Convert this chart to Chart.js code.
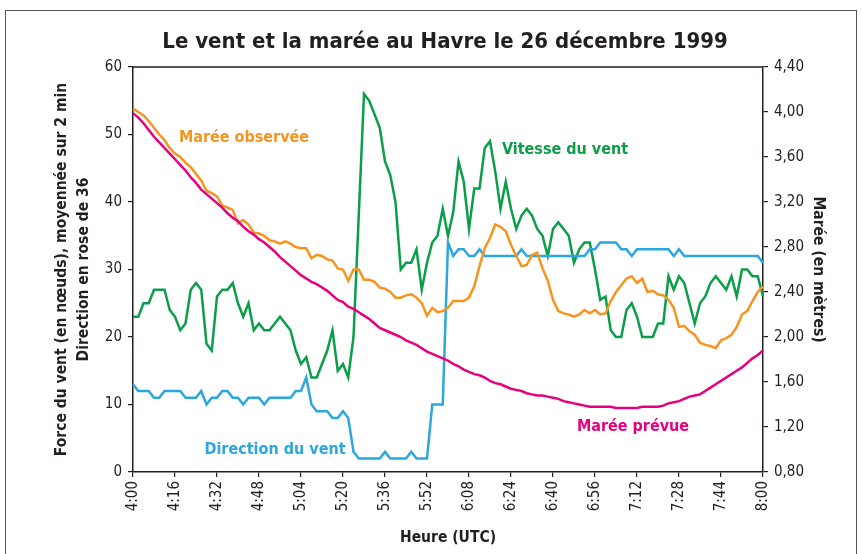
<!DOCTYPE html>
<html>
<head>
<meta charset="utf-8">
<script src="https://cdn.jsdelivr.net/npm/chart.js@4.4.1/dist/chart.umd.min.js"></script>
<style>
  html, body { margin: 0; padding: 0; background: #fff; }
  #wrap { width: 861px; height: 554px; }
</style>
</head>
<body>
<div id="wrap"><canvas id="chart" width="861" height="554"></canvas></div>
<script>
// Heures de 4:00 à 8:00, un point toutes les 2 minutes
const times = [];
for (let m = 0; m <= 240; m += 2) {
    const h = 4 + Math.floor(m / 60);
    const mm = m % 60;
    times.push(h + ':' + String(mm).padStart(2, '0'));
}

// Vitesse du vent (noeuds, moyenne sur 2 min)
const windSpeed = [
    23, 23, 25, 25, 27, 27, 27, 24, 23, 21,
    22, 27, 28, 27, 19, 18, 26, 27, 27, 28,
    25, 23, 25, 21, 22, 21, 21, 22, 23, 22,
    21, 18, 16, 17, 14, 14, 16, 18, 21, 15,
    16, 14, 20, 38, 56, 55, 53, 51, 46, 44,
    40, 30, 31, 31, 33, 27, 31, 34, 35, 39,
    35, 38.5, 46, 43, 36, 42, 42, 48, 49, 44.5,
    39, 43, 39, 36, 38, 39, 38, 36, 35, 32,
    36, 37, 36, 35, 31, 33, 34, 34, 30, 25.5,
    26, 21, 20, 20, 24, 25, 23, 20, 20, 20,
    22, 22, 29, 27, 29, 28, 25, 22, 25, 26,
    28, 29, 28, 27, 29, 26, 30, 30, 29, 29,
    26
];

// Direction du vent (rose de 36)
const windDirection = [
    13, 12, 12, 12, 11, 11, 12, 12, 12, 12,
    11, 11, 11, 12, 10, 11, 11, 12, 12, 11,
    11, 10, 11, 11, 11, 10, 11, 11, 11, 11,
    11, 12, 12, 14, 10, 9, 9, 9, 8, 8,
    9, 8, 3, 2, 2, 2, 2, 2, 3, 2,
    2, 2, 2, 3, 2, 2, 2, 10, 10, 10,
    34, 32, 33, 33, 32, 32, 33, 32, 32, 32,
    32, 32, 32, 32, 33, 32, 32, 32, 32, 32,
    32, 32, 32, 32, 32, 32, 32, 33, 33, 34,
    34, 34, 34, 33, 33, 32, 33, 33, 33, 33,
    33, 33, 33, 32, 33, 32, 32, 32, 32, 32,
    32, 32, 32, 32, 32, 32, 32, 32, 32, 32,
    31
];

// Marée observée (m)
const observedTide = [
    4.03, 4.00, 3.97, 3.92, 3.86, 3.80, 3.75, 3.68, 3.63, 3.60,
    3.55, 3.51, 3.45, 3.39, 3.30, 3.28, 3.25, 3.17, 3.15, 3.13,
    3.01, 3.04, 3.00, 2.93, 2.92, 2.90, 2.86, 2.85, 2.83, 2.85,
    2.83, 2.80, 2.79, 2.79, 2.70, 2.73, 2.72, 2.69, 2.68, 2.61,
    2.60, 2.50, 2.60, 2.60, 2.51, 2.51, 2.49, 2.44, 2.43, 2.40,
    2.35, 2.35, 2.37, 2.38, 2.35, 2.30, 2.19, 2.26, 2.22, 2.23,
    2.26, 2.32, 2.32, 2.32, 2.35, 2.45, 2.63, 2.79, 2.88, 3.00,
    2.98, 2.94, 2.82, 2.72, 2.63, 2.64, 2.73, 2.75, 2.61, 2.50,
    2.33, 2.23, 2.21, 2.20, 2.18, 2.20, 2.24, 2.21, 2.24, 2.20,
    2.21, 2.32, 2.40, 2.46, 2.52, 2.54, 2.48, 2.52, 2.40, 2.41,
    2.38, 2.37, 2.33, 2.26, 2.09, 2.10, 2.05, 2.02, 1.95, 1.93,
    1.92, 1.90, 1.97, 1.99, 2.02, 2.09, 2.20, 2.23, 2.32, 2.40,
    2.45
];

// Marée prévue (m)
const predictedTide = [
    3.99, 3.95, 3.90, 3.84, 3.78, 3.73, 3.68, 3.63, 3.58, 3.53,
    3.48, 3.42, 3.37, 3.31, 3.27, 3.23, 3.19, 3.15, 3.10, 3.06,
    3.03, 2.98, 2.94, 2.91, 2.87, 2.84, 2.80, 2.76, 2.71, 2.67,
    2.63, 2.59, 2.55, 2.52, 2.49, 2.47, 2.44, 2.41, 2.37, 2.33,
    2.31, 2.27, 2.25, 2.22, 2.19, 2.16, 2.12, 2.08, 2.06, 2.04,
    2.02, 2.00, 1.97, 1.95, 1.93, 1.90, 1.87, 1.85, 1.83, 1.81,
    1.79, 1.76, 1.74, 1.71, 1.69, 1.67, 1.66, 1.64, 1.61, 1.59,
    1.58, 1.56, 1.54, 1.53, 1.52, 1.50, 1.49, 1.48, 1.48, 1.47,
    1.46, 1.45, 1.43, 1.42, 1.41, 1.40, 1.39, 1.38, 1.38, 1.38,
    1.38, 1.38, 1.37, 1.37, 1.37, 1.37, 1.37, 1.38, 1.38, 1.38,
    1.38, 1.39, 1.41, 1.42, 1.43, 1.45, 1.47, 1.48, 1.49, 1.52,
    1.55, 1.58, 1.61, 1.64, 1.67, 1.70, 1.73, 1.77, 1.81, 1.84,
    1.88
];

const FONT = "'DejaVu Sans Condensed', 'Liberation Sans Narrow', sans-serif";
const INK = '#231f20';
const GREEN = '#0a9e49';
const BLUE = '#2ba6de';
const ORANGE = '#f7941d';
const MAGENTA = '#e6007e';

// titre, cadre et étiquettes des courbes
const decorations = {
    id: 'decorations',
    beforeDraw(chart) {
        const ctx = chart.ctx;
        ctx.save();
        ctx.fillStyle = '#fff';
        ctx.fillRect(0, 0, chart.width, chart.height);
        ctx.restore();
    },
    afterDraw(chart) {
        const { ctx, chartArea: a } = chart;
        ctx.save();
        ctx.strokeStyle = INK;
        ctx.lineWidth = 1.5;
        ctx.beginPath();
        ctx.moveTo(a.left, a.top);
        ctx.lineTo(a.right, a.top);
        ctx.stroke();

        ctx.strokeStyle = '#555';
        ctx.lineWidth = 1;
        ctx.strokeRect(5.5, 10.5, 851, 600);

        ctx.fillStyle = INK;
        ctx.textAlign = 'center';
        ctx.textBaseline = 'alphabetic';
        ctx.font = 'bold 22px ' + FONT;
        ctx.fillText('Le vent et la marée au Havre le 26 décembre 1999', 445, 48);

        ctx.font = 'bold 16px ' + FONT;
        ctx.fillStyle = ORANGE;
        ctx.fillText('Marée observée', 244, 142);
        ctx.fillStyle = GREEN;
        ctx.fillText('Vitesse du vent', 565, 154);
        ctx.fillStyle = BLUE;
        ctx.fillText('Direction du vent', 275, 454);
        ctx.fillStyle = MAGENTA;
        ctx.fillText('Marée prévue', 633, 431);
        ctx.restore();
    }
};

const lineStyle = { borderWidth: 2.5, pointRadius: 0, tension: 0, fill: false };
const titleFont = { family: FONT, size: 15.5, weight: 'bold', lineHeight: 1.48 };

new Chart(document.getElementById('chart'), {
    type: 'line',
    data: {
        labels: times,
        datasets: [
            { label: 'Marée prévue', data: predictedTide, borderColor: MAGENTA, yAxisID: 'y1', ...lineStyle },
            { label: 'Marée observée', data: observedTide, borderColor: ORANGE, yAxisID: 'y1', ...lineStyle },
            { label: 'Direction du vent', data: windDirection, borderColor: BLUE, yAxisID: 'y', ...lineStyle },
            { label: 'Vitesse du vent', data: windSpeed, borderColor: GREEN, yAxisID: 'y', ...lineStyle }
        ]
    },
    options: {
        responsive: false,
        animation: false,
        devicePixelRatio: 1,
        layout: { padding: { top: 67, left: 0, right: 0, bottom: 0 } },
        plugins: {
            legend: { display: false },
            title: { display: false },
            tooltip: { enabled: false }
        },
        scales: {
            x: {
                type: 'category',
                offset: false,
                afterFit(scale) { scale.height = 82; },
                grid: { drawOnChartArea: false, drawTicks: true, tickLength: 5, color: INK, lineWidth: 1.2 },
                border: { display: true, color: INK, width: 1.5 },
                ticks: {
                    autoSkip: false,
                    minRotation: 90,
                    maxRotation: 90,
                    padding: 4,
                    color: INK,
                    font: { family: FONT, size: 15 },
                    callback(value, index) {
                        return index % 8 === 0 ? this.getLabelForValue(value) : null;
                    }
                },
                title: {
                    display: true,
                    text: 'Heure (UTC)',
                    color: INK,
                    font: titleFont,
                    padding: { top: 0, bottom: 5 }
                }
            },
            y: {
                position: 'left',
                min: 0,
                max: 60,
                afterFit(scale) { scale.width = 133; },
                grid: { drawOnChartArea: false, drawTicks: true, tickLength: 5, color: INK, lineWidth: 1.2 },
                border: { display: true, color: INK, width: 1.5 },
                ticks: {
                    stepSize: 10,
                    padding: 6,
                    color: INK,
                    font: { family: FONT, size: 15 }
                },
                title: {
                    display: true,
                    text: ['Force du vent (en nœuds), moyennée sur 2 min', 'Direction en rose de 36'],
                    color: INK,
                    font: titleFont,
                    padding: { top: 50, bottom: 0 }
                }
            },
            y1: {
                position: 'right',
                min: 0.8,
                max: 4.4,
                afterFit(scale) { scale.width = 98; },
                grid: { drawOnChartArea: false, drawTicks: true, tickLength: 5, color: INK, lineWidth: 1.2 },
                border: { display: true, color: INK, width: 1.5 },
                ticks: {
                    stepSize: 0.4,
                    padding: 6,
                    color: INK,
                    font: { family: FONT, size: 15 },
                    callback: (value) => value.toFixed(2).replace('.', ',')
                },
                title: {
                    display: true,
                    text: 'Marée (en mètres)',
                    color: INK,
                    font: titleFont,
                    padding: { top: 31, bottom: 0 }
                }
            }
        }
    },
    plugins: [decorations]
});
</script>
</body>
</html>
